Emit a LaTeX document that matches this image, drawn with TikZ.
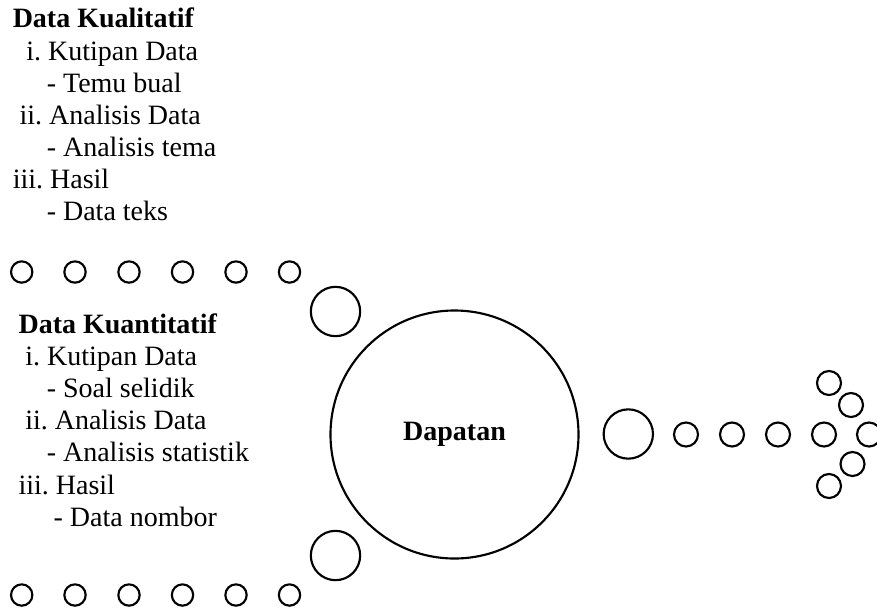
\documentclass[tikz,border=0pt]{standalone}
\usepackage{fontspec}
\setmainfont{Liberation Serif}
\frenchspacing
\begin{document}
\begin{tikzpicture}[x=0.75pt,y=-0.75pt,
  txt/.style={anchor=base west,inner sep=0pt,font=\fontsize{21}{24}\selectfont},
  hd/.style={txt,font=\fontsize{21}{24}\selectfont\bfseries},
  ring/.style={circle,draw,line width=1.6pt,inner sep=0pt,minimum size=#1}]
\useasboundingbox (0,0) rectangle (877,608);
% Qualitative block
\node[hd]  (q1) at (12.5,27.3) {Data Kualitatif};
\node[txt] (q2) at (26,60) {i. Kutipan Data};
\node[txt] (q3) at (46.5,92) {- Temu bual};
\node[txt] (q4) at (19.3,124) {ii. Analisis Data};
\node[txt] (q5) at (46.5,156) {- Analisis tema};
\node[txt] (q6) at (12.5,188.5) {iii. Hasil};
\node[txt] (q7) at (46.5,220.5) {- Data teks};
% Quantitative block
\node[hd]  (k1) at (18.3,333.3) {Data Kuantitatif};
\node[txt] (k2) at (25,365) {i. Kutipan Data};
\node[txt] (k3) at (46.5,397) {- Soal selidik};
\node[txt] (k4) at (25,429.5) {ii. Analisis Data};
\node[txt] (k5) at (46.5,461.7) {- Analisis statistik};
\node[txt] (k6) at (18.3,494) {iii. Hasil};
\node[txt] (k7) at (53.3,526) {- Data nombor};
% small circle rows
\foreach \i/\x in {1/21.7,2/75,3/129,4/182.5,5/236,6/289.5}{
  \node[ring=16pt] (t\i) at (\x,272) {};
  \node[ring=16pt] (b\i) at (\x,595) {};
}
% medium circles
\node[ring=37pt] (m1) at (335.5,311.5) {};
\node[ring=37pt] (m2) at (335.5,555.5) {};
\node[ring=37pt] (m3) at (628.3,434) {};
% main circle
\node[ring=186pt,font=\fontsize{21}{24}\selectfont\bfseries] (dap) at (454.5,434.5) {Dapatan};
% right row and arrow head
\foreach \i/\x in {1/686,2/732,3/778,4/824,5/869}{
  \node[ring=18pt] (r\i) at (\x,434.5) {};
}
\node[ring=18pt] (a1) at (829,383) {};
\node[ring=18pt] (a2) at (851,405) {};
\node[ring=18pt] (a3) at (852.5,464) {};
\node[ring=18pt] (a4) at (829,486) {};
\end{tikzpicture}
\end{document}
